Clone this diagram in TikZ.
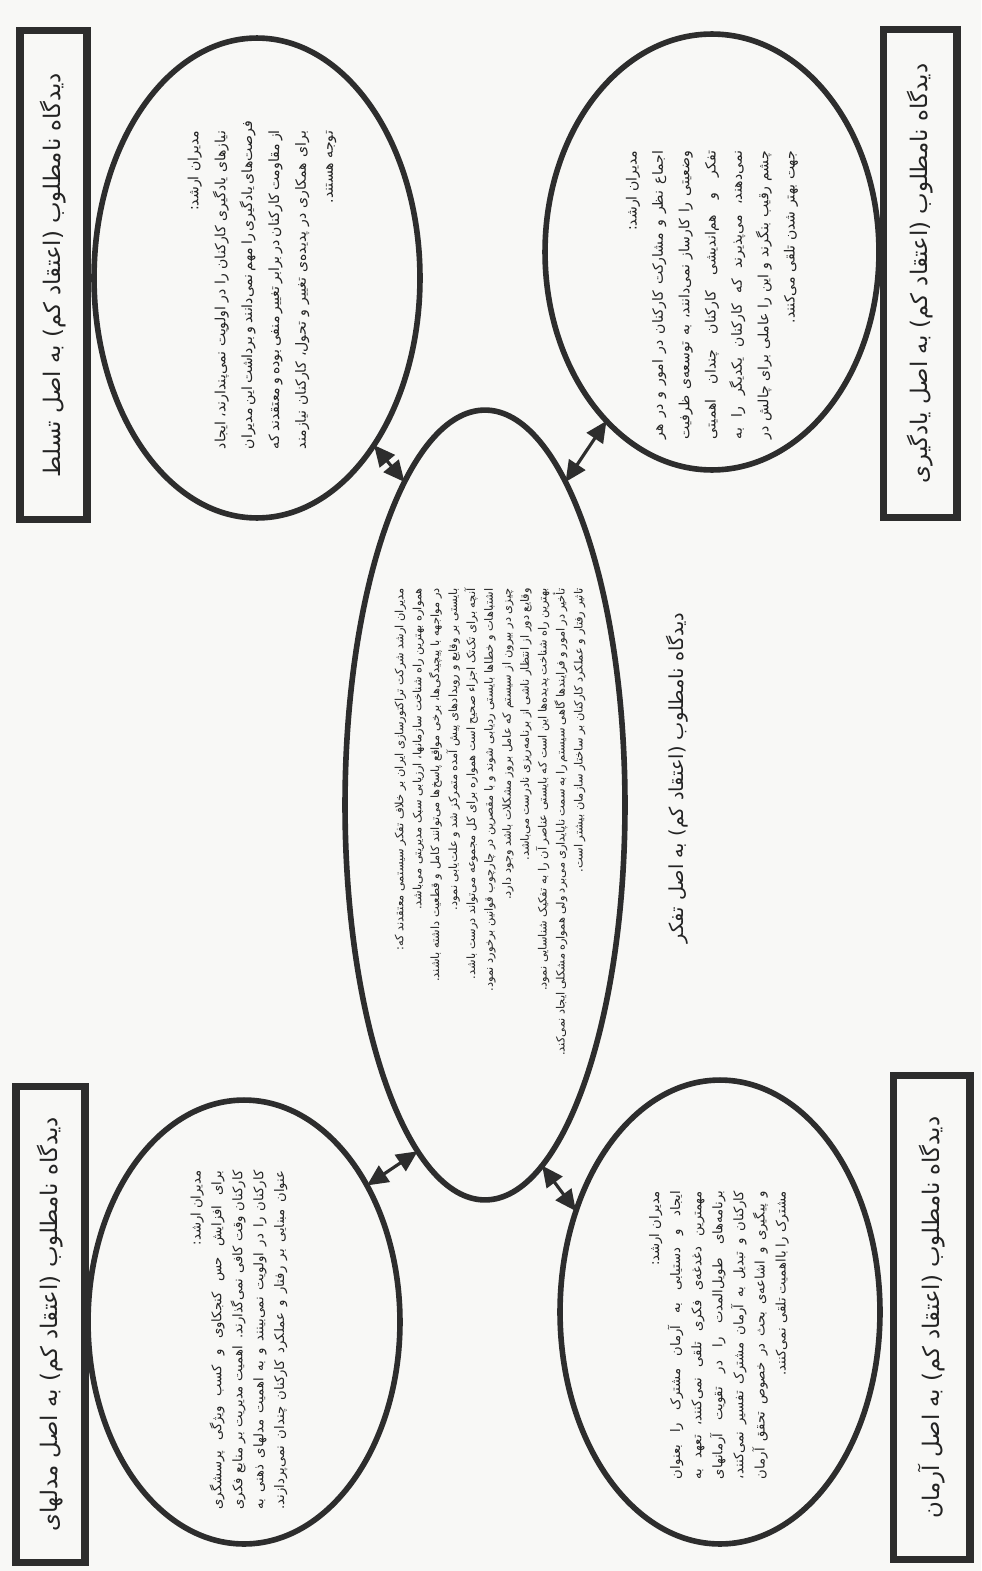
\documentclass[tikz,border=0pt]{standalone}
\usepackage{fontspec}
\usepackage{graphicx}
\usetikzlibrary{shapes.geometric,arrows.meta}
\TeXXeTstate=1
\newfontfamily\fa[Script=Arabic]{DejaVu Sans}
\definecolor{ink}{RGB}{45,45,45}
\definecolor{txtc}{RGB}{35,35,35}
\definecolor{bg}{RGB}{248,248,246}
\newdimen\tw
\newcommand\jline[1]{\hbox to \tw{\beginR #1\endR}}
\newcommand\rline[1]{\hbox to \tw{\hfil\beginR #1\endR}}
\newcommand\para[4]{\vbox{\fa\fontsize{#1}{#2}\selectfont\tw=#3\relax\baselineskip=#2\relax\lineskiplimit=-20pt #4}}
\tikzset{
  ell/.style={ellipse, draw=ink, line width=3.2pt, inner sep=0pt, outer sep=0pt},
  tbox/.style={draw=ink, line width=4pt, rotate=90, inner sep=0pt, text=txtc, font=\fa\fontsize{13pt}{15pt}\selectfont},
  txt/.style={rotate=90, inner sep=0pt, text=txtc},
  dbl/.style={{Triangle[length=12pt,width=11pt]}-{Triangle[length=12pt,width=11pt]}, line width=1.8pt, draw=ink}
}
\begin{document}
\begin{tikzpicture}[x=0.02cm,y=-0.02cm]
\useasboundingbox (0,0) rectangle (981,1571);
\fill[bg] (0,0) rectangle (981,1571);

% title boxes
\node[tbox, minimum width=9.8cm, minimum height=1.34cm] (bA) at (53.5,275) {\beginR دیدگاه نامطلوب (اعتقاد کم) به اصل تسلط\endR};
\node[tbox, minimum width=9.78cm, minimum height=1.48cm] (bB) at (920,273.5) {\beginR دیدگاه نامطلوب (اعتقاد کم) به اصل یادگیری\endR};
\node[tbox, minimum width=9.54cm, minimum height=1.38cm] (bC) at (50.5,1324.5) {\beginR دیدگاه نامطلوب (اعتقاد کم) به اصل مدلهای\endR};
\node[tbox, minimum width=9.7cm, minimum height=1.54cm] (bD) at (931.5,1317.5) {\beginR دیدگاه نامطلوب (اعتقاد کم) به اصل آرمان\endR};

% ellipses
\node[ell, minimum width=6.52cm, minimum height=9.6cm] (c1) at (257,278) {};
\node[ell, minimum width=6.68cm, minimum height=8.72cm] (c2) at (712,252) {};
\node[ell, minimum width=6.24cm, minimum height=8.88cm] (c3) at (244,1322) {};
\node[ell, minimum width=6.4cm, minimum height=9.28cm] (c4) at (720,1312) {};
\node[ell, minimum width=5.6cm, minimum height=15.8cm] (ctr) at (485,805) {};

% connectors
\draw[dbl] (c1.-55) -- (ctr.104);
\draw[dbl] (c2.-122) -- (ctr.76);
\draw[dbl] (c3.48) -- (ctr.-101);
\draw[dbl] (c4.145) -- (ctr.-81);

% circle texts
\node[txt] (t1) at (262,290) {\para{8pt}{15.3pt}{181pt}{%
\rline{مدیران ارشد:}
\jline{نیازهای یادگیری کارکنان را در اولویت نمی‌پندارند، ایجاد}
\jline{فرصت‌های یادگیری را مهم نمی‌دانند و برداشت این مدیران}
\jline{از مقاومت کارکنان در برابر تغییر منفی بوده و معتقدند که}
\jline{برای همکاری در پدیده‌ی تغییر و تحول، کارکنان نیازمند}
\rline{توجه هستند.}}};

\node[txt] (t2) at (712,295) {\para{8pt}{15pt}{164pt}{%
\rline{مدیران ارشد:}
\jline{اجماع نظر و مشارکت کارکنان در امور و در هر}
\jline{وضعیتی را کارساز نمی‌دانند، به توسعه‌ی ظرفیت}
\jline{تفکر و هم‌اندیشی کارکنان چندان اهمیتی}
\jline{نمی‌دهند، می‌پذیرند که کارکنان یکدیگر را به}
\jline{چشم رقیب بنگرند و این را عاملی برای چالش در}
\rline{جهت بهتر شدن تلقی می‌کنند.}}};

\node[txt] (t3) at (239,1340) {\para{7.5pt}{11.9pt}{193pt}{%
\rline{مدیران ارشد:}
\jline{برای افزایش حس کنجکاوی و کسب ویژگی پرسشگری}
\jline{کارکنان وقت کافی نمی‌گذارند. اهمیت مدیریت بر منابع فکری}
\jline{کارکنان را در اولویت نمی‌بینند و به اهمیت مدلهای ذهنی به}
\jline{عنوان مبنایی بر رفتار و عملکرد کارکنان چندان نمی‌پردازند.}}};

\node[txt] (t4) at (719,1335) {\para{7.5pt}{12pt}{164pt}{%
\rline{مدیران ارشد:}
\jline{ایجاد و دستیابی به آرمان مشترک را بعنوان}
\jline{مهمترین دغدغه‌ی فکری تلقی نمی‌کنند، تعهد به}
\jline{برنامه‌های طویل‌المدت را در تقویت آرمانهای}
\jline{کارکنان و تبدیل به آرمان مشترک تفسیر نمی‌کنند،}
\jline{و پیگیری و اشاعه‌ی بحث در خصوص تحقق آرمان}
\rline{مشترک را بااهمیت تلقی نمی‌کنند.}}};

% centre text
\node[txt, anchor=east] (t0) at (490,588) {\para{6.5pt}{10.2pt}{266pt}{%
\rline{مدیران ارشد شرکت تراکتورسازی ایران بر خلاف تفکر سیستمی معتقدند که:}
\rline{همواره بهترین راه شناخت سازمانها، ارزیابی سبک مدیریتی می‌باشد.}
\rline{در مواجهه با پیچیدگی‌ها، برخی مواقع پاسخ‌ها می‌توانند کامل و قطعیت داشته باشند.}
\rline{بایستی بر وقایع و رویدادهای پیش آمده متمرکز شد و علت‌یابی نمود.}
\rline{آنچه برای تک‌تک اجزاء صحیح است همواره برای کل مجموعه می‌تواند درست باشد.}
\rline{اشتباهات و خطاها بایستی ردیابی شوند و با مقصرین در چارچوب قوانین برخورد نمود.}
\rline{چیزی در بیرون از سیستم که عامل بروز مشکلات باشد وجود دارد.}
\rline{وقایع دور از انتظار ناشی از برنامه‌ریزی نادرست می‌باشد.}
\rline{بهترین راه شناخت پدیده‌ها این است که بایستی عناصر آن را به تفکیک شناسایی نمود.}
\rline{تأخیر در امور و فرایندها گاهی سیستم را به سمت ناپایداری می‌برد ولی همواره مشکلی ایجاد نمی‌کند.}
\rline{تاثیر رفتار و عملکرد کارکنان بر ساختار سازمان بیشتر است.}}};

% centre title
\node[txt, font=\fa\fontsize{11pt}{13pt}\selectfont] (tt) at (677,778) {\beginR دیدگاه نامطلوب (اعتقاد کم) به اصل تفکر\endR};
\end{tikzpicture}
\end{document}
